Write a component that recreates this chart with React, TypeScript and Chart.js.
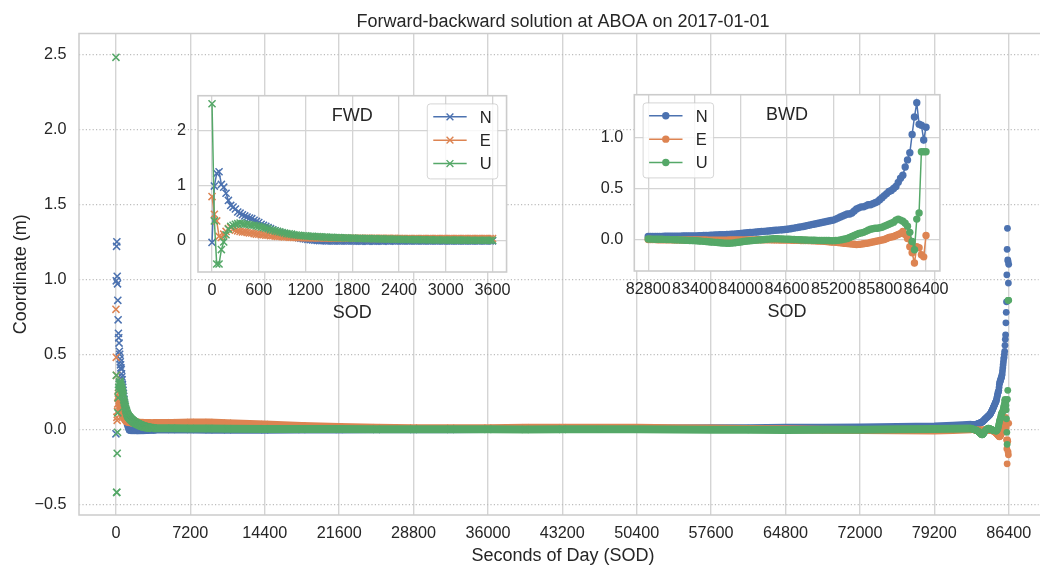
import React, { useEffect, useRef } from "react";
import { Chart, registerables } from "chart.js";

Chart.register(...registerables);

// ---------------- data ----------------
const TITLE = "Forward-backward solution at ABOA on 2017-01-01";
const SERIES = ["N", "E", "U"];

const STEP = 30; // seconds between epochs
const FWD_START = 0;
const BWD_START = 82800;

// Forward solution, first hour (0 .. 3600 s every 30 s)
const FWD_N = [
  -0.03, 0.99, 1.22, 1.25, 1.02, 0.97, 0.86, 0.73, 0.64, 0.61, 0.575,
  0.52, 0.50, 0.47, 0.45, 0.43, 0.41, 0.40, 0.37, 0.35, 0.33,
  0.30, 0.28, 0.26, 0.24, 0.22, 0.20, 0.18, 0.165, 0.15, 0.135,
  0.12, 0.105, 0.095, 0.085, 0.075, 0.065, 0.055, 0.045, 0.04, 0.032,
  0.026, 0.02, 0.015, 0.01, 0.006, 0.003, 0.001, 0.0, -0.001, -0.002,
  -0.002, -0.003, -0.003, -0.004, -0.004, -0.004, -0.005, -0.005, -0.005, -0.005,
  -0.005, -0.006, -0.006, -0.006, -0.005, -0.006, -0.006, -0.005, -0.006, -0.006,
  -0.006, -0.005, -0.006, -0.005, -0.005, -0.006, -0.005, -0.005, -0.005, -0.005,
  -0.005, -0.004, -0.005, -0.004, -0.005, -0.004, -0.004, -0.004, -0.004, -0.004,
  -0.004, -0.004, -0.003, -0.004, -0.003, -0.003, -0.003, -0.003, -0.003, -0.003,
  -0.003, -0.003, -0.002, -0.003, -0.002, -0.002, -0.002, -0.002, -0.002, -0.002,
  -0.002, -0.002, -0.001, -0.002, -0.001, -0.001, -0.001, -0.001, -0.001, -0.001,
];
const FWD_E = [
  0.80, 0.48, 0.36, 0.08, 0.06, 0.12, 0.17, 0.22, 0.24, 0.21, 0.19,
  0.18, 0.17, 0.16, 0.16, 0.15, 0.14, 0.14, 0.13, 0.12, 0.12,
  0.11, 0.11, 0.10, 0.10, 0.09, 0.09, 0.085, 0.08, 0.08, 0.075,
  0.07, 0.07, 0.065, 0.065, 0.06, 0.06, 0.058, 0.056, 0.055, 0.054,
  0.053, 0.052, 0.052, 0.051, 0.05, 0.05, 0.05, 0.049, 0.049, 0.048,
  0.048, 0.048, 0.047, 0.047, 0.047, 0.046, 0.046, 0.046, 0.046, 0.045,
  0.045, 0.045, 0.045, 0.045, 0.044, 0.045, 0.044, 0.044, 0.044, 0.044,
  0.044, 0.043, 0.044, 0.043, 0.043, 0.043, 0.043, 0.043, 0.042, 0.043,
  0.042, 0.042, 0.042, 0.042, 0.042, 0.041, 0.042, 0.041, 0.041, 0.041,
  0.041, 0.041, 0.041, 0.04, 0.041, 0.04, 0.04, 0.04, 0.04, 0.04,
  0.04, 0.04, 0.04, 0.04, 0.041, 0.04, 0.041, 0.041, 0.041, 0.041,
  0.041, 0.042, 0.041, 0.042, 0.042, 0.042, 0.042, 0.042, 0.042, 0.042,
];
const FWD_U = [
  2.48, 0.36, -0.42, -0.42, -0.16, -0.02, 0.11, 0.21, 0.26, 0.28, 0.30,
  0.31, 0.32, 0.31, 0.30, 0.30, 0.29, 0.28, 0.28, 0.27, 0.26,
  0.25, 0.24, 0.23, 0.22, 0.20, 0.19, 0.18, 0.17, 0.16, 0.15,
  0.14, 0.13, 0.125, 0.12, 0.11, 0.105, 0.10, 0.095, 0.09, 0.088,
  0.085, 0.082, 0.08, 0.077, 0.075, 0.072, 0.07, 0.068, 0.066, 0.064,
  0.062, 0.06, 0.058, 0.057, 0.055, 0.054, 0.052, 0.051, 0.05, 0.048,
  0.046, 0.045, 0.044, 0.042, 0.041, 0.04, 0.039, 0.038, 0.037, 0.036,
  0.035, 0.034, 0.033, 0.032, 0.031, 0.03, 0.029, 0.028, 0.027, 0.026,
  0.025, 0.025, 0.024, 0.023, 0.022, 0.022, 0.021, 0.02, 0.02, 0.019,
  0.018, 0.018, 0.017, 0.017, 0.016, 0.016, 0.015, 0.015, 0.014, 0.014,
  0.013, 0.013, 0.013, 0.012, 0.012, 0.012, 0.011, 0.011, 0.011, 0.01,
  0.01, 0.01, 0.01, 0.009, 0.009, 0.009, 0.009, 0.008, 0.008, 0.008,
];

// Backward solution, last hour (82800 .. 86400 s every 30 s)
const BWD_N = [
  0.030, 0.030, 0.030, 0.031, 0.031, 0.031, 0.031, 0.032, 0.032, 0.032, 0.032,
  0.033, 0.033, 0.033, 0.033, 0.034, 0.034, 0.034, 0.035, 0.035, 0.036,
  0.036, 0.037, 0.038, 0.039, 0.040, 0.041, 0.042, 0.043, 0.044, 0.045,
  0.046, 0.047, 0.048, 0.049, 0.050, 0.052, 0.053, 0.055, 0.057, 0.060,
  0.062, 0.064, 0.066, 0.068, 0.070, 0.072, 0.074, 0.076, 0.078, 0.080,
  0.082, 0.084, 0.086, 0.088, 0.090, 0.092, 0.094, 0.096, 0.098, 0.100,
  0.104, 0.108, 0.112, 0.116, 0.120, 0.124, 0.128, 0.133, 0.138, 0.143,
  0.148, 0.152, 0.157, 0.162, 0.167, 0.172, 0.177, 0.182, 0.186, 0.190,
  0.20, 0.21, 0.22, 0.23, 0.24, 0.25, 0.25, 0.26, 0.28, 0.30,
  0.31, 0.32, 0.32, 0.33, 0.34, 0.34, 0.35, 0.36, 0.37, 0.39,
  0.41, 0.43, 0.45, 0.47, 0.48, 0.50, 0.52, 0.56, 0.60, 0.63,
  0.71, 0.78, 0.85, 1.03, 1.20, 1.34, 1.13, 1.12, 0.975, 1.10,
];
const BWD_E = [
  0.0, 0.0, -0.001, -0.001, -0.002, -0.002, -0.002, -0.003, -0.003, -0.003, -0.003,
  -0.004, -0.004, -0.004, -0.004, -0.005, -0.005, -0.005, -0.005, -0.005, -0.005,
  -0.005, -0.005, -0.005, -0.005, -0.005, -0.006, -0.006, -0.006, -0.006, -0.006,
  -0.006, -0.006, -0.006, -0.006, -0.005, -0.005, -0.005, -0.005, -0.005, -0.005,
  -0.005, -0.004, -0.004, -0.004, -0.004, -0.004, -0.003, -0.003, -0.003, -0.003,
  -0.003, -0.003, -0.003, -0.004, -0.004, -0.004, -0.005, -0.005, -0.005, -0.006,
  -0.006, -0.007, -0.007, -0.008, -0.008, -0.009, -0.009, -0.010, -0.010, -0.011,
  -0.012, -0.013, -0.014, -0.015, -0.016, -0.018, -0.020, -0.022, -0.024, -0.026,
  -0.028, -0.030, -0.032, -0.035, -0.038, -0.040, -0.042, -0.045, -0.047, -0.050,
  -0.048, -0.045, -0.042, -0.038, -0.035, -0.030, -0.025, -0.020, -0.015, -0.010,
  -0.005, 0.0, 0.01, 0.02, 0.025, 0.03, 0.04, 0.05, 0.06, 0.08,
  0.05, 0.01, -0.07, -0.13, -0.23, -0.07, -0.08, -0.15, -0.17, 0.04,
];
const BWD_U = [
  0.005, 0.004, 0.004, 0.003, 0.003, 0.002, 0.002, 0.001, 0.0, 0.0, -0.001,
  -0.002, -0.003, -0.004, -0.005, -0.006, -0.007, -0.008, -0.009, -0.01, -0.011,
  -0.012, -0.014, -0.016, -0.018, -0.02, -0.022, -0.024, -0.026, -0.028, -0.03,
  -0.032, -0.034, -0.035, -0.036, -0.036, -0.035, -0.033, -0.03, -0.027, -0.024,
  -0.02, -0.017, -0.014, -0.012, -0.01, -0.008, -0.006, -0.004, -0.002, 0.0,
  0.002, 0.004, 0.006, 0.008, 0.008, 0.007, 0.006, 0.005, 0.004, 0.003,
  0.002, 0.001, 0.0, -0.001, -0.002, -0.003, -0.004, -0.005, -0.006, -0.006,
  -0.007, -0.007, -0.008, -0.008, -0.009, -0.009, -0.01, -0.01, -0.011, -0.011,
  -0.01, -0.008, -0.004, 0.0, 0.005, 0.01, 0.02, 0.03, 0.04, 0.05,
  0.06, 0.065, 0.07, 0.08, 0.09, 0.10, 0.105, 0.11, 0.11, 0.115,
  0.12, 0.13, 0.14, 0.15, 0.16, 0.17, 0.19, 0.20, 0.19, 0.18,
  0.16, 0.13, 0.07, -0.02, -0.10, 0.20, 0.26, 0.86, 0.86, 0.86,
];

// Rest of the day (sparse reading of the converged band)
const FWD_MID_T = [5400, 7200, 9000, 10800, 14400, 18000, 21600, 25200, 28800, 32400, 36000, 39600, 43200];
const FWD_MID_N = [-0.001, -0.001, -0.002, -0.002, -0.002, -0.001, -0.001, 0.0, 0.0, 0.001, 0.002, 0.003, 0.004];
const FWD_MID_E = [0.043, 0.045, 0.045, 0.041, 0.032, 0.022, 0.015, 0.011, 0.008, 0.007, 0.008, 0.01, 0.011];
const FWD_MID_U = [0.007, 0.006, 0.005, 0.004, 0.003, 0.002, 0.002, 0.001, 0.001, 0.0, 0.0, -0.001, 0.0];

const BWD_MID_T = [43200, 46800, 50400, 54000, 57600, 61200, 64800, 68400, 72000, 75600, 79200, 81000];
const BWD_MID_N = [0.004, 0.004, 0.005, 0.006, 0.007, 0.008, 0.01, 0.011, 0.013, 0.015, 0.019, 0.024];
const BWD_MID_E = [0.011, 0.01, 0.01, 0.008, 0.005, 0.002, 0.0, -0.002, -0.004, -0.006, -0.008, -0.004];
const BWD_MID_U = [0.0, 0.0, 0.0, -0.001, -0.002, -0.003, -0.004, -0.003, -0.002, 0.0, 0.002, 0.004];

// ticks
const MAIN_X_TICKS = [0, 7200, 14400, 21600, 28800, 36000, 43200, 50400, 57600, 64800, 72000, 79200, 86400];
const MAIN_Y_TICKS = [-0.5, 0, 0.5, 1, 1.5, 2, 2.5];
const MAIN_Y_LABELS = ["\u22120.5", "0.0", "0.5", "1.0", "1.5", "2.0", "2.5"];
const FWD_X_TICKS = [0, 600, 1200, 1800, 2400, 3000, 3600];
const FWD_Y_TICKS = [0, 1, 2];
const FWD_Y_LABELS = ["0", "1", "2"];
const BWD_X_TICKS = [82800, 83400, 84000, 84600, 85200, 85800, 86400];
const BWD_Y_TICKS = [0, 0.5, 1.0];
const BWD_Y_LABELS = ["0.0", "0.5", "1.0"];

// ---------------- styling ----------------
const COLORS = ["#4C72B0", "#DD8452", "#55A868"];
const ORDERS = [3, 2, 1];
const FONT = "'Liberation Sans', Arial, Helvetica, sans-serif";
const TEXT = "#262626";
const TICK_SIZE = 16.2;
const LABEL_SIZE = 18;
const LEGEND_SIZE = 16.5;
const SPINE = "#cccccc";
const BAND_START = 3600;
const BAND_END = 82800;
const BAND_WIDTH = 8;

Chart.defaults.font.family = FONT;
Chart.defaults.color = TEXT;

const grid = (start: number, n: number) => Array.from({ length: n }, (_, i) => start + i * STEP);
const FWD_T = grid(FWD_START, FWD_N.length);
const BWD_T = grid(BWD_START, BWD_N.length);
const pts = (ts: number[], vs: number[]) => ts.map((t, i) => ({ x: t, y: vs[i] }));

function xScale(min: number, max: number, ticks: number[], height: number, gridColor: string, gridWidth: number, pad: number) {
  return {
    type: "linear",
    position: "bottom",
    min,
    max,
    afterBuildTicks: (s: any) => {
      s.ticks = ticks.map((v) => ({ value: v }));
    },
    afterFit: (s: any) => {
      s.height = height;
    },
    ticks: {
      autoSkip: false,
      maxRotation: 0,
      minRotation: 0,
      padding: pad,
      color: TEXT,
      font: { family: FONT, size: TICK_SIZE },
      callback: (v: any) => String(v),
    },
    grid: { drawTicks: false, color: gridColor, lineWidth: gridWidth },
    border: { display: false },
  };
}

function yScale(
  min: number,
  max: number,
  ticks: number[],
  labels: string[],
  width: number,
  gridColor: string,
  gridWidth: number,
  dash: number[],
  pad: number
) {
  return {
    type: "linear",
    position: "left",
    min,
    max,
    afterBuildTicks: (s: any) => {
      s.ticks = ticks.map((v) => ({ value: v }));
    },
    afterFit: (s: any) => {
      s.width = width;
    },
    ticks: {
      autoSkip: false,
      padding: pad,
      color: TEXT,
      font: { family: FONT, size: TICK_SIZE },
      callback: (_v: any, i: number) => labels[i],
    },
    grid: { drawTicks: false, color: gridColor, lineWidth: gridWidth },
    border: { display: false, dash },
  };
}

function drawText(ctx: CanvasRenderingContext2D, text: string, x: number, y: number, size: number, rotate = 0) {
  ctx.save();
  ctx.fillStyle = TEXT;
  ctx.font = `${size}px ${FONT}`;
  ctx.textAlign = "center";
  ctx.textBaseline = "alphabetic";
  ctx.translate(x, y);
  if (rotate) ctx.rotate(rotate);
  ctx.fillText(text, 0, 0);
  ctx.restore();
}

function drawMarker(ctx: CanvasRenderingContext2D, style: string, x: number, y: number, color: string) {
  ctx.save();
  if (style === "x") {
    const r = 3.4;
    ctx.strokeStyle = color;
    ctx.lineWidth = 1.4;
    ctx.beginPath();
    ctx.moveTo(x - r, y - r);
    ctx.lineTo(x + r, y + r);
    ctx.moveTo(x - r, y + r);
    ctx.lineTo(x + r, y - r);
    ctx.stroke();
  } else {
    ctx.fillStyle = color;
    ctx.beginPath();
    ctx.arc(x, y, 3.7, 0, Math.PI * 2);
    ctx.fill();
  }
  ctx.restore();
}

function drawLegend(ctx: CanvasRenderingContext2D, bx: number, by: number, style: string) {
  const w = 70.5;
  const h = 75;
  const r = 3;
  ctx.save();
  ctx.beginPath();
  ctx.moveTo(bx + r, by);
  ctx.arcTo(bx + w, by, bx + w, by + h, r);
  ctx.arcTo(bx + w, by + h, bx, by + h, r);
  ctx.arcTo(bx, by + h, bx, by, r);
  ctx.arcTo(bx, by, bx + w, by, r);
  ctx.closePath();
  ctx.fillStyle = "rgba(255,255,255,0.8)";
  ctx.fill();
  ctx.strokeStyle = "rgba(204,204,204,0.8)";
  ctx.lineWidth = 1;
  ctx.stroke();
  SERIES.forEach((name, i) => {
    const cy = by + 12.9 + i * 23.35;
    const color = COLORS[i];
    ctx.strokeStyle = color;
    ctx.lineWidth = 1.5;
    ctx.beginPath();
    ctx.moveTo(bx + 6, cy);
    ctx.lineTo(bx + 39.4, cy);
    ctx.stroke();
    drawMarker(ctx, style, bx + 22.7, cy, color);
    ctx.fillStyle = TEXT;
    ctx.font = `${LEGEND_SIZE}px ${FONT}`;
    ctx.textAlign = "left";
    ctx.textBaseline = "alphabetic";
    ctx.fillText(name, bx + 52.6, cy + 5.9);
  });
  ctx.restore();
}

function mainSet(label: string, data: any[], i: number, style: string) {
  const color = COLORS[i];
  const cross = style === "x";
  return {
    label,
    data,
    order: ORDERS[i],
    borderColor: color,
    backgroundColor: color,
    borderWidth: BAND_WIDTH,
    borderCapStyle: "butt",
    borderJoinStyle: "round",
    segment: {
      borderColor: (c: any) =>
        c.p0.parsed.x >= BAND_START && c.p1.parsed.x <= BAND_END ? color : "rgba(0,0,0,0)",
    },
    pointStyle: cross ? "crossRot" : "circle",
    pointRadius: cross ? 5 : 3.4,
    pointBorderWidth: cross ? 1.5 : 0,
    pointBorderColor: color,
    pointBackgroundColor: color,
  };
}

function insetSet(label: string, data: any[], i: number, style: string) {
  const color = COLORS[i];
  const cross = style === "x";
  return {
    label,
    data,
    order: ORDERS[i],
    borderColor: color,
    backgroundColor: color,
    borderWidth: 1.5,
    pointStyle: cross ? "crossRot" : "circle",
    pointRadius: cross ? 5 : 3.7,
    pointBorderWidth: cross ? 1.5 : 0,
    pointBorderColor: color,
    pointBackgroundColor: color,
  };
}

const FWD_VALUES = [FWD_N, FWD_E, FWD_U];
const FWD_MID_VALUES = [FWD_MID_N, FWD_MID_E, FWD_MID_U];
const BWD_VALUES = [BWD_N, BWD_E, BWD_U];
const BWD_MID_VALUES = [BWD_MID_N, BWD_MID_E, BWD_MID_U];

function mainConfig(): any {
  const datasets: any[] = [];
  SERIES.forEach((s, i) => {
    datasets.push(mainSet("FWD " + s, pts(FWD_T, FWD_VALUES[i]).concat(pts(FWD_MID_T, FWD_MID_VALUES[i])), i, "x"));
  });
  SERIES.forEach((s, i) => {
    datasets.push(mainSet("BWD " + s, pts(BWD_MID_T, BWD_MID_VALUES[i]).concat(pts(BWD_T, BWD_VALUES[i])), i, "o"));
  });
  const decor = {
    id: "mainDecor",
    afterDraw(chart: any) {
      const { ctx, chartArea: ca } = chart;
      ctx.save();
      ctx.strokeStyle = SPINE;
      ctx.lineWidth = 1.5;
      ctx.beginPath();
      ctx.moveTo(ca.right + 2, ca.top);
      ctx.lineTo(ca.left, ca.top);
      ctx.lineTo(ca.left, ca.bottom);
      ctx.lineTo(ca.right + 2, ca.bottom);
      ctx.stroke();
      ctx.restore();
      drawText(ctx, TITLE, 563, 26.5, LABEL_SIZE);
      drawText(ctx, "Seconds of Day (SOD)", 563, 561.3, LABEL_SIZE);
      drawText(ctx, "Coordinate (m)", 26, (ca.top + ca.bottom) / 2, LABEL_SIZE, -Math.PI / 2);
    },
  };
  return {
    type: "line",
    data: { datasets },
    options: {
      responsive: false,
      animation: false,
      events: [],
      layout: { padding: { top: 33.5, right: 0, bottom: 0, left: 0 }, autoPadding: false },
      plugins: { legend: { display: false }, tooltip: { enabled: false }, title: { display: false } },
      scales: {
        x: xScale(-3576, 89298, MAIN_X_TICKS, 53, "#d4d4d4", 1.4, 8.8),
        y: yScale(-0.571, 2.639, MAIN_Y_TICKS, MAIN_Y_LABELS, 79, "#bdbdbd", 1.2, [1.2, 2.2], 12.5),
      },
    },
    plugins: [decor],
  };
}

function insetConfig(kind: "fwd" | "bwd"): any {
  const fwd = kind === "fwd";
  const style = fwd ? "x" : "o";
  const ts = fwd ? FWD_T : BWD_T;
  const vals = fwd ? FWD_VALUES : BWD_VALUES;
  const datasets = SERIES.map((s, i) => insetSet(s, pts(ts, vals[i]), i, style));
  const decor = {
    id: "insetDecor",
    beforeDraw(chart: any) {
      const { ctx, chartArea: ca } = chart;
      ctx.save();
      ctx.fillStyle = "#ffffff";
      ctx.fillRect(ca.left, ca.top, ca.right - ca.left, ca.bottom - ca.top);
      ctx.restore();
    },
    afterDraw(chart: any) {
      const { ctx, chartArea: ca } = chart;
      ctx.save();
      ctx.strokeStyle = SPINE;
      ctx.lineWidth = 1.6;
      ctx.strokeRect(ca.left, ca.top, ca.right - ca.left, ca.bottom - ca.top);
      ctx.restore();
      const cx = (ca.left + ca.right) / 2;
      drawText(ctx, fwd ? "FWD" : "BWD", cx, ca.top + 25.2, LABEL_SIZE);
      drawText(ctx, "SOD", cx, ca.bottom + 45.5, LABEL_SIZE);
      if (fwd) drawLegend(ctx, ca.right - 8.8 - 70.5, ca.top + 8.2, style);
      else drawLegend(ctx, ca.left + 8.8, ca.top + 8.2, style);
    },
  };
  return {
    type: "line",
    data: { datasets },
    options: {
      responsive: false,
      animation: false,
      events: [],
      layout: { padding: { top: 10, right: fwd ? 10 : 10.3, bottom: 0, left: 0 }, autoPadding: false },
      plugins: { legend: { display: false }, tooltip: { enabled: false }, title: { display: false } },
      scales: fwd
        ? {
            x: xScale(-180, 3780, FWD_X_TICKS, 52, "#d4d4d4", 1.3, 9),
            y: yScale(-0.565, 2.625, FWD_Y_TICKS, FWD_Y_LABELS, 58, "#d4d4d4", 1.3, [], 12),
          }
        : {
            x: xScale(82620, 86580, BWD_X_TICKS, 53, "#d4d4d4", 1.3, 9),
            y: yScale(-0.3085, 1.4185, BWD_Y_TICKS, BWD_Y_LABELS, 60.3, "#d4d4d4", 1.3, [], 11),
          },
    },
    plugins: [decor],
  };
}

function ChartCanvas(props: { left: number; top: number; width: number; height: number; make: () => any }) {
  const ref = useRef<HTMLCanvasElement | null>(null);
  useEffect(() => {
    if (!ref.current) return;
    const chart = new Chart(ref.current, props.make());
    return () => chart.destroy();
  }, []);
  return (
    <canvas
      ref={ref}
      width={props.width}
      height={props.height}
      style={{ position: "absolute", left: props.left, top: props.top, width: props.width, height: props.height }}
    />
  );
}

export default function App() {
  return (
    <div style={{ position: "fixed", left: 0, top: 0, width: 1040, height: 568, overflow: "hidden", background: "#ffffff" }}>
      <ChartCanvas left={0} top={0} width={1040} height={568} make={mainConfig} />
      <ChartCanvas left={140} top={74} width={380} height={250} make={() => insetConfig("fwd")} />
      <ChartCanvas left={574} top={74} width={384} height={250} make={() => insetConfig("bwd")} />
    </div>
  );
}
